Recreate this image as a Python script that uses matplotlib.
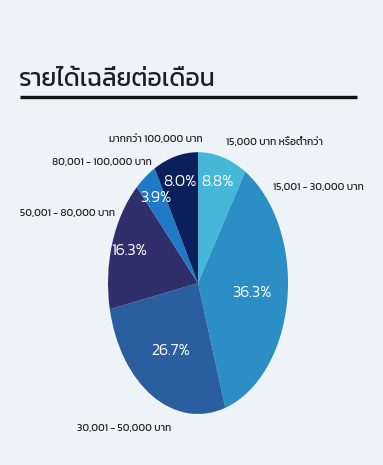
import matplotlib
matplotlib.use('Agg')
import numpy as np
import matplotlib.pyplot as plt
from matplotlib.lines import Line2D

# data
categories = ['15,000 บาท หรือต่ำกว่า', '15,001 - 30,000 บาท', '30,001 - 50,000 บาท',
              '50,001 - 80,000 บาท', '80,001 - 100,000 บาท', 'มากกว่า 100,000 บาท']
shares = [8.8, 36.3, 26.7, 16.3, 3.9, 8.0]
title = 'รายได้เฉลี่ยต่อเดือน'

colors = ['#45b8d9', '#2b8ec4', '#2b5e9e', '#2e2f6b', '#1f79c6', '#0b1f5a']
bg = '#edf3f6'

# where the category labels sit (pie radius = 1) and how they are aligned
label_pos = [(0.31, 1.08), (0.83, 0.73), (-0.82, -1.11),
             (-0.92, 0.53), (-0.51, 0.92), (-0.47, 1.10)]
label_ha = ['left', 'left', 'center', 'right', 'right', 'center']

plt.rcParams['font.family'] = ['Kanit', 'DejaVu Sans']

fig = plt.figure(figsize=(3.83, 4.65), dpi=100, facecolor=bg)

# title + underline
fig.text(0.05, 0.829, title, fontsize=17.8, fontweight='normal', color='#1a1f2e',
         va='center', ha='left')
fig.add_artist(Line2D([0.052, 0.932], [0.791, 0.791], color='#111111', lw=2.4,
                      solid_capstyle='butt'))

# pie is stretched into an ellipse
ax = fig.add_axes([0.282, 0.1097, 0.470, 0.563])
wedges, _ = ax.pie(shares, colors=colors, startangle=90, counterclock=False,
                   radius=1, wedgeprops=dict(linewidth=0))
ax.set_aspect('auto')
ax.set_xlim(-1, 1)
ax.set_ylim(-1, 1)
ax.axis('off')

for w, s in zip(wedges, shares):
    mid = np.deg2rad((w.theta1 + w.theta2) / 2)
    r = 0.6 if s > 20 else 0.8
    ax.text(r * np.cos(mid), r * np.sin(mid), f'{s:.1f}%', color='white',
            fontsize=11.5, fontweight=300, ha='center', va='center')

for name, (x, y), ha in zip(categories, label_pos, label_ha):
    ax.text(x, y, name, fontsize=7.4, fontweight='normal', color='#222222',
            ha=ha, va='center')

plt.savefig('out.png', facecolor=bg)
